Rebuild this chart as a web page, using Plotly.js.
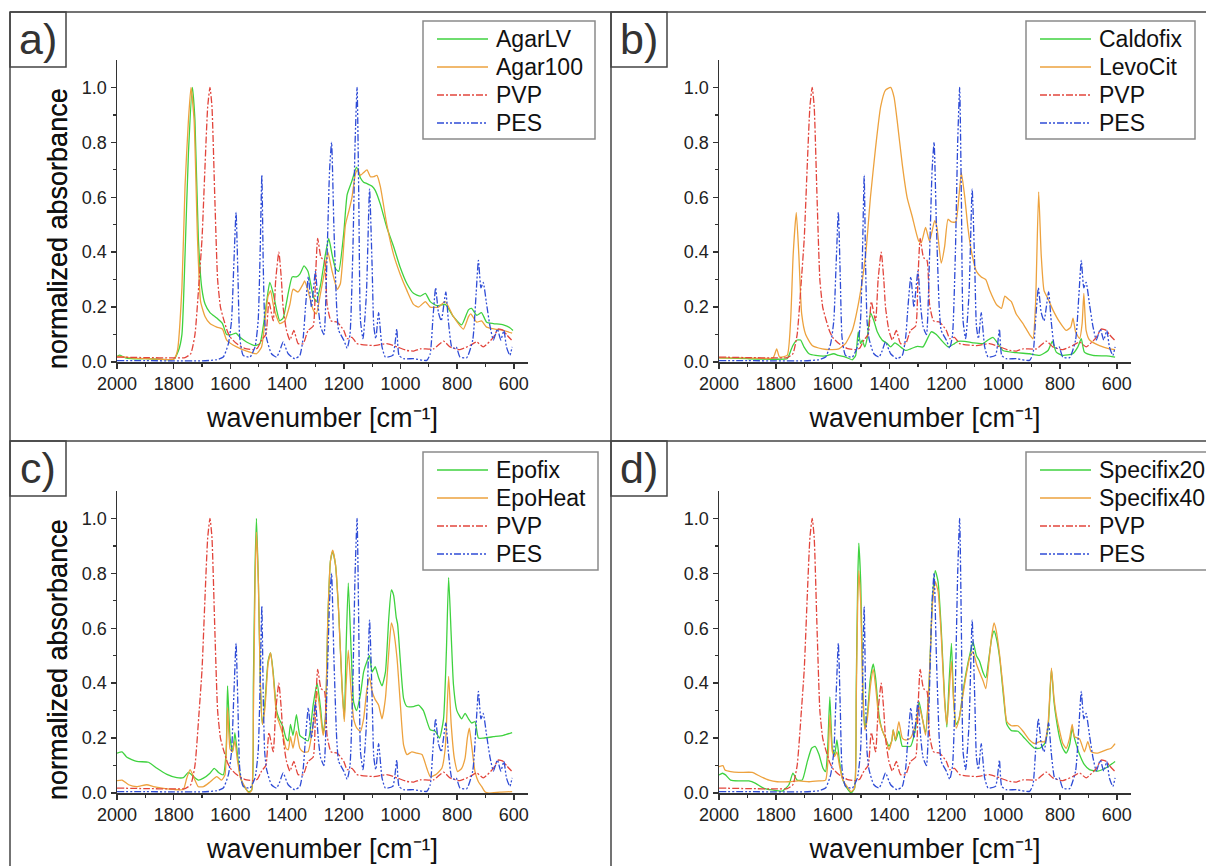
<!DOCTYPE html>
<html><head><meta charset="utf-8">
<script src="https://cdn.plot.ly/plotly-3.0.1.min.js"></script>
<style>html,body{margin:0;padding:0;background:#fff}#chart{width:1206px;height:866px}</style>
</head><body><div id="chart"></div>
<script>
// ---- shared reference spectra ----
const pesW = [2000,1900,1800,1700,1650,1625,1607,1596,1588,1580,1573,1567,1555,1531,1513,1502,1495,1489,1484,1479,1472,1455,1437,1426,1414,1396,1373,1355,1343,1335,1325,1314,1300,1290,1282,1270,1260,1250,1243,1235,1225,1218,1200,1188,1178,1168,1160,1153,1147,1141,1132,1120,1109,1100,1094,1087,1077,1065,1053,1027,1020,1013,1005,989,954,907,895,886,876,866,856,840,831,819,810,803,790,766,745,733,725,716,708,696,684,672,658,646,635,626,614,606];
const pesA = [0.005,0.005,0.004,0.004,0.008,0.018,0.067,0.15,0.35,0.545,0.3,0.09,0.024,0.018,0.055,0.15,0.4,0.68,0.35,0.15,0.085,0.03,0.018,0.04,0.073,0.03,0.012,0.024,0.09,0.2,0.31,0.2,0.33,0.2,0.13,0.10,0.35,0.7,0.80,0.5,0.2,0.115,0.08,0.05,0.1,0.4,0.8,1.0,0.6,0.15,0.085,0.25,0.63,0.35,0.13,0.085,0.18,0.055,0.018,0.024,0.06,0.12,0.024,0.012,0.012,0.006,0.03,0.15,0.27,0.18,0.15,0.255,0.15,0.055,0.05,0.055,0.018,0.016,0.08,0.25,0.37,0.27,0.29,0.21,0.13,0.08,0.12,0.08,0.115,0.055,0.024,0.055];
const pvpW = [2000,1900,1800,1760,1740,1725,1710,1700,1690,1680,1672,1665,1655,1645,1635,1625,1610,1600,1578,1550,1520,1505,1490,1475,1464,1449,1440,1429,1420,1414,1402,1390,1376,1361,1343,1326,1308,1300,1292,1280,1268,1259,1245,1223,1200,1188,1171,1153,1094,1048,1012,977,953,930,883,848,825,790,755,731,708,672,655,637,626,608];
const pvpA = [0.018,0.016,0.015,0.016,0.03,0.1,0.3,0.45,0.7,0.93,1.0,0.93,0.6,0.3,0.2,0.16,0.11,0.09,0.067,0.05,0.045,0.05,0.08,0.1,0.22,0.15,0.3,0.40,0.3,0.2,0.115,0.08,0.115,0.067,0.067,0.115,0.13,0.3,0.45,0.38,0.37,0.21,0.15,0.145,0.115,0.085,0.09,0.067,0.06,0.067,0.055,0.042,0.04,0.048,0.048,0.076,0.055,0.045,0.06,0.073,0.055,0.09,0.12,0.115,0.1,0.08];

// ---- panel a ----
const agarLVW = [2000,1990,1970,1950,1900,1850,1800,1783,1771,1760,1748,1734,1725,1713,1701,1689,1672,1648,1628,1613,1596,1580,1566,1543,1513,1496,1484,1472,1461,1449,1437,1426,1414,1396,1382,1367,1355,1340,1326,1308,1297,1282,1265,1253,1241,1229,1218,1200,1188,1171,1155,1141,1130,1118,1100,1089,1071,1048,1024,1001,977,954,930,912,895,871,842,813,784,760,749,731,714,696,672,637,614,603];
const agarLVA = [0.02,0.025,0.015,0.012,0.012,0.01,0.01,0.042,0.10,0.39,0.76,1.0,0.88,0.45,0.27,0.21,0.18,0.16,0.14,0.10,0.10,0.105,0.09,0.073,0.06,0.067,0.13,0.22,0.29,0.25,0.19,0.15,0.16,0.25,0.31,0.31,0.32,0.35,0.33,0.24,0.22,0.28,0.39,0.45,0.39,0.34,0.33,0.47,0.61,0.66,0.71,0.67,0.655,0.65,0.64,0.625,0.575,0.49,0.42,0.345,0.285,0.25,0.24,0.25,0.22,0.205,0.21,0.165,0.135,0.19,0.195,0.17,0.18,0.145,0.14,0.135,0.125,0.115];
const agar100W = [2000,1990,1950,1900,1850,1800,1787,1771,1760,1748,1739,1728,1716,1705,1689,1672,1648,1628,1613,1578,1543,1508,1490,1478,1467,1458,1449,1437,1426,1408,1390,1379,1361,1343,1338,1326,1308,1297,1282,1265,1256,1241,1223,1212,1194,1182,1171,1159,1151,1141,1130,1118,1106,1094,1083,1071,1048,1024,1001,977,954,936,912,895,866,842,813,778,760,752,731,714,696,667,637,606];
const agar100A = [0.02,0.02,0.015,0.012,0.01,0.01,0.04,0.27,0.64,0.88,1.0,0.88,0.45,0.22,0.165,0.14,0.127,0.12,0.08,0.055,0.04,0.03,0.055,0.15,0.24,0.26,0.21,0.165,0.14,0.15,0.21,0.265,0.255,0.285,0.295,0.26,0.19,0.175,0.25,0.345,0.40,0.33,0.265,0.285,0.50,0.55,0.60,0.685,0.70,0.68,0.69,0.70,0.675,0.675,0.68,0.64,0.50,0.39,0.32,0.26,0.21,0.20,0.22,0.20,0.20,0.22,0.165,0.12,0.165,0.175,0.145,0.15,0.127,0.12,0.115,0.105];

// ---- panel b ----
const caldofixW = [2000,1900,1800,1760,1754,1740,1725,1713,1701,1683,1660,1625,1596,1580,1555,1531,1519,1510,1502,1496,1487,1478,1467,1455,1443,1426,1408,1396,1381,1367,1343,1326,1302,1282,1253,1235,1218,1194,1171,1159,1135,1106,1071,1053,1036,1018,1001,954,907,871,842,827,813,790,755,737,725,714,684,637,606];
const caldofixA = [0.015,0.012,0.01,0.012,0.024,0.06,0.08,0.08,0.055,0.03,0.024,0.022,0.03,0.024,0.018,0.008,0.024,0.11,0.067,0.08,0.055,0.09,0.18,0.15,0.11,0.08,0.067,0.055,0.07,0.06,0.042,0.048,0.057,0.055,0.11,0.10,0.08,0.055,0.067,0.075,0.075,0.07,0.067,0.08,0.09,0.067,0.042,0.034,0.03,0.024,0.042,0.075,0.036,0.024,0.03,0.055,0.085,0.036,0.024,0.022,0.018];
const levoCitW = [2000,1900,1810,1797,1787,1760,1748,1739,1728,1719,1709,1695,1672,1637,1601,1578,1555,1531,1508,1484,1467,1449,1431,1414,1396,1384,1373,1355,1338,1320,1297,1288,1273,1259,1241,1233,1218,1206,1194,1182,1167,1155,1147,1135,1124,1112,1094,1077,1061,1047,1024,1006,994,983,971,954,930,907,895,886,875,866,856,842,825,801,778,762,754,745,731,722,716,708,696,661,626,606];
const levoCitA = [0.015,0.015,0.015,0.048,0.018,0.024,0.15,0.39,0.545,0.39,0.175,0.10,0.06,0.048,0.045,0.048,0.067,0.115,0.22,0.39,0.60,0.78,0.93,0.99,1.0,0.965,0.88,0.72,0.60,0.53,0.44,0.435,0.49,0.44,0.515,0.49,0.36,0.42,0.52,0.51,0.51,0.61,0.69,0.60,0.49,0.405,0.33,0.31,0.30,0.26,0.21,0.195,0.24,0.23,0.22,0.175,0.14,0.10,0.085,0.21,0.62,0.39,0.26,0.23,0.19,0.145,0.115,0.127,0.16,0.11,0.085,0.14,0.25,0.115,0.08,0.06,0.048,0.045];

// ---- panel c ----
const epofixW = [2000,1982,1965,1930,1889,1859,1824,1789,1766,1748,1730,1713,1695,1672,1657,1642,1625,1615,1610,1601,1592,1584,1576,1566,1555,1537,1525,1519,1513,1508,1501,1494,1487,1478,1467,1458,1449,1437,1428,1414,1404,1396,1388,1379,1367,1355,1343,1326,1308,1294,1282,1273,1265,1256,1247,1239,1229,1218,1206,1198,1192,1184,1174,1165,1155,1141,1130,1118,1109,1100,1089,1077,1065,1053,1041,1032,1024,1015,1010,1001,989,977,954,936,919,895,877,862,848,838,830,821,813,801,784,772,760,749,737,725,708,672,637,606];
const epofixA = [0.145,0.15,0.13,0.115,0.112,0.09,0.068,0.056,0.056,0.075,0.06,0.047,0.054,0.072,0.09,0.075,0.066,0.15,0.39,0.2,0.15,0.22,0.15,0.066,0.03,0.005,0.01,0.39,0.82,1.0,0.76,0.39,0.25,0.33,0.48,0.51,0.44,0.30,0.27,0.24,0.2,0.19,0.25,0.21,0.285,0.21,0.2,0.19,0.32,0.40,0.31,0.22,0.27,0.64,0.845,0.88,0.83,0.66,0.39,0.27,0.52,0.765,0.52,0.33,0.30,0.36,0.44,0.48,0.50,0.44,0.46,0.42,0.39,0.44,0.64,0.74,0.72,0.64,0.615,0.49,0.345,0.315,0.315,0.32,0.30,0.23,0.225,0.2,0.27,0.515,0.785,0.575,0.395,0.30,0.27,0.29,0.27,0.255,0.26,0.2,0.2,0.205,0.21,0.22];
const epoHeatW = [2000,1982,1959,1930,1895,1871,1836,1801,1766,1754,1742,1728,1713,1695,1672,1648,1631,1619,1610,1601,1593,1584,1576,1564,1549,1535,1525,1519,1513,1508,1501,1494,1487,1478,1467,1458,1449,1437,1426,1414,1404,1396,1388,1379,1367,1355,1343,1326,1308,1294,1282,1273,1265,1256,1247,1239,1229,1218,1206,1198,1192,1184,1174,1165,1153,1141,1130,1118,1109,1100,1089,1077,1065,1053,1041,1032,1024,1012,1001,989,977,960,942,924,907,895,877,854,842,830,821,810,798,784,772,764,757,749,737,725,713,702,690,649,606];
const epoHeatA = [0.045,0.047,0.03,0.023,0.03,0.023,0.017,0.013,0.013,0.054,0.085,0.054,0.023,0.023,0.04,0.06,0.047,0.066,0.31,0.16,0.15,0.19,0.126,0.054,0.023,0.0,0.01,0.27,0.76,0.95,0.76,0.39,0.25,0.31,0.47,0.51,0.43,0.285,0.25,0.21,0.163,0.157,0.205,0.163,0.225,0.163,0.15,0.15,0.25,0.37,0.285,0.21,0.27,0.64,0.845,0.885,0.83,0.66,0.38,0.26,0.39,0.52,0.37,0.27,0.235,0.225,0.27,0.38,0.42,0.37,0.34,0.32,0.27,0.345,0.515,0.62,0.59,0.49,0.333,0.175,0.14,0.15,0.145,0.14,0.09,0.06,0.066,0.09,0.163,0.425,0.25,0.127,0.078,0.09,0.127,0.2,0.236,0.175,0.078,0.041,0.023,0.005,0.0,0.003,0.005];

// ---- panel d ----
const specifix20W = [2000,1988,1977,1959,1930,1895,1871,1842,1812,1777,1754,1740,1725,1707,1689,1674,1662,1648,1634,1625,1618,1610,1601,1593,1585,1576,1564,1549,1535,1523,1517,1512,1508,1501,1494,1487,1478,1467,1457,1449,1437,1426,1414,1402,1392,1387,1379,1367,1355,1343,1326,1308,1296,1284,1273,1261,1249,1239,1229,1218,1206,1198,1191,1182,1174,1165,1155,1141,1130,1116,1106,1094,1083,1071,1061,1049,1040,1032,1024,1012,998,987,971,948,930,907,889,871,854,842,830,821,813,801,790,778,766,757,749,731,714,696,667,637,606];
const specifix20A = [0.066,0.072,0.066,0.047,0.044,0.044,0.035,0.017,0.011,0.007,0.03,0.072,0.047,0.047,0.115,0.163,0.17,0.14,0.09,0.078,0.15,0.35,0.163,0.14,0.193,0.115,0.047,0.017,0.0,0.017,0.39,0.76,0.91,0.76,0.39,0.236,0.285,0.42,0.47,0.42,0.285,0.23,0.2,0.17,0.19,0.23,0.19,0.225,0.17,0.17,0.17,0.236,0.333,0.27,0.22,0.39,0.70,0.81,0.77,0.60,0.345,0.24,0.39,0.545,0.333,0.25,0.27,0.37,0.44,0.51,0.55,0.50,0.48,0.44,0.42,0.50,0.565,0.59,0.565,0.49,0.345,0.25,0.227,0.225,0.206,0.18,0.163,0.163,0.18,0.236,0.45,0.333,0.27,0.2,0.163,0.145,0.175,0.236,0.2,0.14,0.103,0.085,0.08,0.092,0.115];
const specifix40W = [2000,1986,1979,1959,1930,1883,1854,1824,1795,1754,1719,1683,1648,1625,1615,1610,1601,1593,1585,1576,1564,1549,1535,1523,1517,1512,1508,1501,1494,1487,1478,1467,1457,1449,1437,1426,1414,1402,1392,1387,1379,1367,1355,1343,1326,1308,1296,1284,1273,1261,1249,1239,1229,1218,1206,1198,1191,1182,1174,1165,1155,1141,1130,1116,1106,1094,1083,1071,1061,1049,1040,1032,1024,1012,998,987,971,948,930,907,889,871,854,842,830,821,813,801,790,778,766,757,749,731,714,702,690,667,637,620,606];
const specifix40A = [0.096,0.1,0.084,0.078,0.075,0.075,0.06,0.047,0.041,0.041,0.044,0.041,0.044,0.047,0.15,0.285,0.15,0.133,0.15,0.1,0.047,0.023,0.005,0.017,0.333,0.686,0.81,0.686,0.37,0.23,0.27,0.39,0.45,0.39,0.27,0.23,0.2,0.157,0.19,0.23,0.193,0.26,0.2,0.193,0.2,0.25,0.315,0.27,0.21,0.39,0.686,0.77,0.735,0.575,0.333,0.25,0.345,0.48,0.333,0.236,0.27,0.36,0.43,0.5,0.515,0.47,0.44,0.41,0.38,0.49,0.575,0.62,0.59,0.5,0.36,0.26,0.245,0.245,0.225,0.193,0.18,0.187,0.187,0.25,0.455,0.345,0.285,0.225,0.18,0.163,0.2,0.25,0.205,0.197,0.15,0.187,0.15,0.145,0.157,0.163,0.18];

const panelLabels = ['a)','b)','c)','d)'];
const sampleNames = [['AgarLV','Agar100'],['Caldofix','LevoCit'],['Epofix','EpoHeat'],['Specifix20','Specifix40']];
const sampleW = [[agarLVW,agar100W],[caldofixW,levoCitW],[epofixW,epoHeatW],[specifix20W,specifix40W]];
const sampleA = [[agarLVA,agar100A],[caldofixA,levoCitA],[epofixA,epoHeatA],[specifix20A,specifix40A]];
const xTicks = [2000,1800,1600,1400,1200,1000,800,600];
const xMinor = [1900,1700,1500,1300,1100,900,700];
const yTicks = [0,0.2,0.4,0.6,0.8,1.0];
const yMinor = [0.1,0.3,0.5,0.7,0.9];
const xTitle = 'wavenumber [cm\u207B\u00B9]';
const yTitle = 'normalized absorbance';

// ---- layout geometry (pixels) ----
const W = 1206, H = 866;
const FONT = 'Liberation Sans, Arial, Helvetica, sans-serif';
const COL = {green:'#3fd23f', orange:'#eda23e', red:'#e2453c', blue:'#2f4cd6'};
const DASH = {solid:'solid', pvp:'7px,2px,2px,2px', pes:'7px,2px,2px,2px,2px,2px'};
const xDomPx = [[117,528],[719,1131]];
const yDomPx = [[60,362],[491,793]];
const px = x => x / W, py = y => 1 - y / H;

const data = [];
const layout = {
  width: W, height: H, margin:{l:0,r:0,t:0,b:0},
  paper_bgcolor:'#fff', plot_bgcolor:'#fff',
  font:{family:FONT, color:'#222'},
  showlegend:false, shapes:[], annotations:[]
};

for (let p = 0; p < 4; p++) {
  const col = p % 2, row = Math.floor(p / 2);
  const sfx = p === 0 ? '' : String(p + 1);
  const xa = 'x' + sfx, ya = 'y' + sfx;
  const sets = [
    {name:sampleNames[p][0], x:sampleW[p][0], y:sampleA[p][0], color:COL.green, dash:DASH.solid},
    {name:sampleNames[p][1], x:sampleW[p][1], y:sampleA[p][1], color:COL.orange, dash:DASH.solid},
    {name:'PVP', x:pvpW, y:pvpA, color:COL.red, dash:DASH.pvp},
    {name:'PES', x:pesW, y:pesA, color:COL.blue, dash:DASH.pes}
  ];
  sets.forEach(s => data.push({
    type:'scatter', mode:'lines', name:s.name, x:s.x, y:s.y,
    xaxis:xa, yaxis:ya, showlegend:false,
    line:{color:s.color, width:1.3, dash:s.dash, shape:'spline', smoothing:0.5},
    hoverinfo:'skip'
  }));

  layout['xaxis' + sfx] = {
    domain:[px(xDomPx[col][0]), px(xDomPx[col][1])], anchor:ya,
    range:[2000,550], autorange:false, fixedrange:true,
    showline:true, linecolor:'#333', linewidth:1.5, mirror:false,
    showgrid:false, zeroline:false,
    ticks:'outside', ticklen:5, tickwidth:1.5, tickcolor:'#333',
    tickmode:'array', tickvals:xTicks, ticktext:xTicks.map(String),
    minor:{tickmode:'array', tickvals:xMinor, ticks:'outside', ticklen:3, tickwidth:1.2, tickcolor:'#333', showgrid:false},
    tickfont:{family:FONT, size:18, color:'#222'},
    title:{text:xTitle, font:{family:FONT, size:27, color:'#111'}, standoff:15}
  };
  layout['yaxis' + sfx] = {
    domain:[py(yDomPx[row][1]), py(yDomPx[row][0])], anchor:xa,
    range:[0,1.1], autorange:false, fixedrange:true,
    showline:true, linecolor:'#333', linewidth:1.5,
    showgrid:false, zeroline:false,
    ticks:'outside', ticklen:5, tickwidth:1.5, tickcolor:'#333',
    tickmode:'array', tickvals:yTicks, ticktext:yTicks.map(v => v.toFixed(1)),
    minor:{tickmode:'array', tickvals:yMinor, ticks:'outside', ticklen:3, tickwidth:1.2, tickcolor:'#333', showgrid:false},
    tickfont:{family:FONT, size:18, color:'#222'}
  };
  // y-axis title (centred like the original, slightly below the domain centre)
  layout.annotations.push({xref:'paper', yref:'paper', x:px(58), y:py(row === 0 ? 229 : 660),
    xanchor:'center', yanchor:'middle', showarrow:false, textangle:-90, text:yTitle,
    font:{family:FONT, size:27, color:'#111'}});

  // legend box (drawn in the style of the original)
  const lx = col === 0 ? 423 : 1026;
  const ly = row === 0 ? 21 : 452;
  layout.shapes.push({type:'rect', xref:'paper', yref:'paper',
    x0:px(lx), x1:px(col === 0 ? (p === 2 ? 598 : 595) : (p === 1 ? 1195 : 1230)),
    y0:py(ly), y1:py(ly + 118),
    line:{color:'#8a8a8a', width:1.5}, fillcolor:'#fff', layer:'above'});
  sets.forEach((s, i) => {
    const yy = ly + 18 + i * 28;
    layout.shapes.push({type:'line', xref:'paper', yref:'paper', layer:'above',
      x0:px(lx + 14), x1:px(lx + 65), y0:py(yy), y1:py(yy),
      line:{color:s.color, width:1.3, dash:s.dash}});
    layout.annotations.push({xref:'paper', yref:'paper', x:px(lx + 71), y:py(yy),
      xanchor:'left', yanchor:'middle', showarrow:false, text:s.name,
      font:{family:FONT, size:23, color:'#111'}});
  });

  // panel label box
  const bx0 = col === 0 ? 10 : 611, by0 = row === 0 ? 12 : 441;
  layout.shapes.push({type:'rect', xref:'paper', yref:'paper',
    x0:px(bx0), x1:px(bx0 + 56), y0:py(by0), y1:py(by0 + 55),
    line:{color:'#444', width:1.5}, fillcolor:'rgba(0,0,0,0)'});
  layout.annotations.push({xref:'paper', yref:'paper', x:px(bx0 + 28), y:py(by0 + 27),
    xanchor:'center', yanchor:'middle', showarrow:false, text:panelLabels[p],
    font:{family:FONT, size:43, color:'#333'}});
}

// panel frame lines
[[10,12,1206,12],[10,441,1206,441],[10,12,10,866],[611,12,611,866]].forEach(l =>
  layout.shapes.push({type:'line', xref:'paper', yref:'paper',
    x0:px(l[0]), y0:py(l[1]), x1:px(l[2]), y1:py(l[3]), line:{color:'#444', width:1.5}}));

Plotly.newPlot('chart', data, layout, {staticPlot:true, displayModeBar:false});
</script>
</body></html>
